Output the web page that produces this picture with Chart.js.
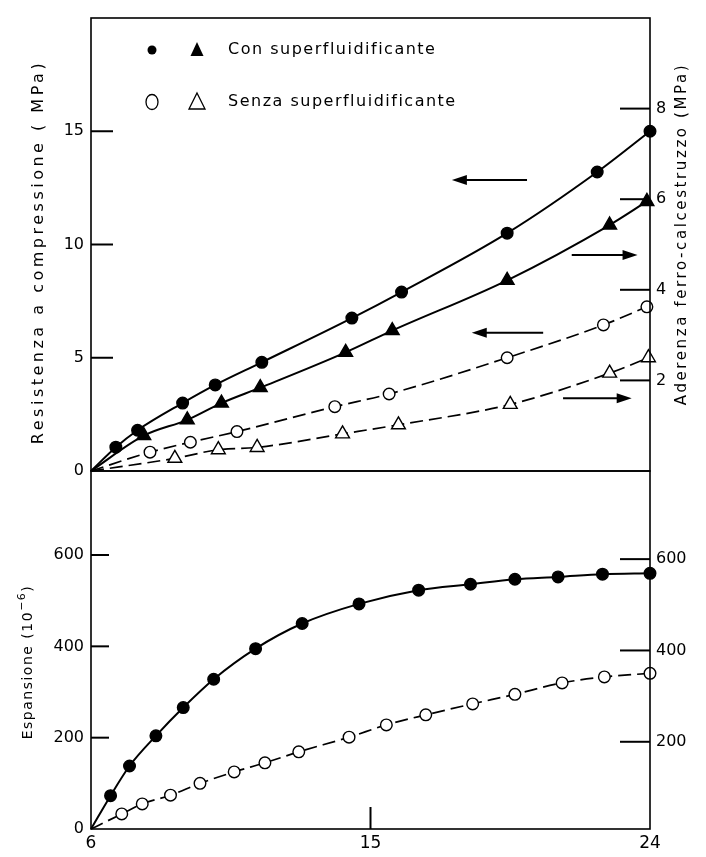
<!DOCTYPE html>
<html>
<head>
<meta charset="utf-8">
<script src="https://cdn.jsdelivr.net/npm/chart.js@4"></script>
<style>
  body { margin: 0; background: #fff; }
  #wrap { position: relative; width: 706px; height: 857px; }
  canvas { position: absolute; left: 0; }
  #alto { top: 0; }
  #basso { top: 451px; }
</style>
</head>
<body>
<div id="wrap">
  <canvas id="alto" width="706" height="490"></canvas>
  <canvas id="basso" width="706" height="406"></canvas>
</div>
<script>
// valori (ore sull'asse x)
var xTicks = [6, 15, 24];

// resistenza a compressione (MPa), asse sinistro alto
var oreResCon = [6, 6.8, 7.5, 8.95, 10, 11.5, 14.4, 16, 19.4, 22.3, 24];
var resCon = [0, 1.05, 1.8, 3.0, 3.8, 4.8, 6.75, 7.9, 10.5, 13.2, 15.0];
var oreResSenza = [6, 7.9, 9.2, 10.7, 13.85, 15.6, 19.4, 22.5, 23.9];
var resSenza = [0, 0.83, 1.27, 1.74, 2.84, 3.4, 5.0, 6.45, 7.25];

// aderenza ferro-calcestruzzo (MPa), asse destro alto
var oreAderCon = [6, 7.7, 9.1, 10.2, 11.45, 14.2, 15.7, 19.4, 22.7, 23.9];
var aderCon = [0, 0.78, 1.13, 1.5, 1.84, 2.62, 3.1, 4.21, 5.43, 5.95];
var oreAderSenza = [6, 8.7, 10.1, 11.35, 14.1, 15.9, 19.5, 22.7, 23.95];
var aderSenza = [0, 0.28, 0.47, 0.52, 0.82, 1.02, 1.47, 2.16, 2.5];

// espansione (10^-6), pannello basso
var oreEspCon = [6, 6.63, 7.24, 8.09, 8.97, 9.95, 11.3, 12.8, 14.63, 16.55, 18.22, 19.65, 21.04, 22.47, 24];
var espCon = [0, 73, 138, 204, 266, 328, 395, 450, 493, 523, 536, 547, 552, 558, 560];
var oreEspSenza = [6, 6.99, 7.65, 8.56, 9.51, 10.61, 11.6, 12.69, 14.31, 15.51, 16.78, 18.29, 19.65, 21.17, 22.53, 24];
var espSenza = [0, 33, 55, 74, 100, 125, 145, 169, 201, 228, 250, 274, 295, 320, 333, 341];

var resTicks = [0, 5, 10, 15];
var aderTicks = [2, 4, 6, 8];
var espTicks = [0, 200, 400, 600];
var espTicksDx = [200, 400, 600];

var legendaCon = 'Con superfluidificante';
var legendaSenza = 'Senza superfluidificante';

Chart.defaults.font.family = 'DejaVu Sans';
Chart.defaults.color = '#000';

function punti(xs, ys) {
  return xs.map(function (x, i) { return { x: x, y: ys[i] }; });
}

function serie(label, xs, ys, asse, stile, pieno, tratteggio) {
  return {
    label: label,
    data: punti(xs, ys),
    yAxisID: asse,
    borderColor: '#000',
    borderWidth: tratteggio ? 1.7 : 2,
    borderDash: tratteggio ? [13, 6] : [],
    pointStyle: stile,
    pointRadius: function (c) { return c.dataIndex === 0 ? 0 : (stile === 'triangle' ? 8 : 5.8); },
    pointBackgroundColor: pieno ? '#000' : '#fff',
    pointBorderColor: '#000',
    pointBorderWidth: 1.4,
    cubicInterpolationMode: 'monotone',
    clip: false,
    fill: false
  };
}

function soloTicks(vals) {
  return function (scale) { scale.ticks = vals.map(function (v) { return { value: v }; }); };
}

function larghezza(w) {
  return function (scale) { scale.width = w; };
}

// testo ruotato, letto dal basso verso l'alto; sup = esponente opzionale
function titoloVerticale(ctx, testo, x, y, size, spazio, sup, coda) {
  ctx.save();
  ctx.translate(x, y);
  ctx.rotate(-Math.PI / 2);
  ctx.letterSpacing = spazio + 'px';
  ctx.textBaseline = 'middle';
  ctx.fillStyle = '#000';
  var font = size + 'px "DejaVu Sans"', fontSup = Math.round(size * 0.75) + 'px "DejaVu Sans"';
  ctx.font = font;
  var w1 = ctx.measureText(testo).width, w2 = 0, w3 = 0;
  if (sup) {
    ctx.font = fontSup; w2 = ctx.measureText(sup).width;
    ctx.font = font; w3 = ctx.measureText(coda).width;
  }
  var x0 = -(w1 + w2 + w3) / 2;
  ctx.textAlign = 'left';
  ctx.fillText(testo, x0, 0);
  if (sup) {
    ctx.font = fontSup;
    ctx.fillText(sup, x0 + w1, -size * 0.4);
    ctx.font = font;
    ctx.fillText(coda, x0 + w1 + w2, 0);
  }
  ctx.restore();
}

function freccia(ctx, xs, ys, da, a, y) {
  var x1 = xs.getPixelForValue(da), x2 = xs.getPixelForValue(a), py = ys.getPixelForValue(y);
  var dir = x2 > x1 ? 1 : -1;
  ctx.beginPath();
  ctx.moveTo(x1, py);
  ctx.lineTo(x2 - dir * 10, py);
  ctx.stroke();
  ctx.beginPath();
  ctx.moveTo(x2, py);
  ctx.lineTo(x2 - dir * 15, py - 5);
  ctx.lineTo(x2 - dir * 15, py + 5);
  ctx.closePath();
  ctx.fill();
}

function tacche(ctx, scale, vals, xBase, len) {
  vals.forEach(function (v) {
    var py = scale.getPixelForValue(v);
    ctx.beginPath();
    ctx.moveTo(xBase, py);
    ctx.lineTo(xBase + len, py);
    ctx.stroke();
  });
}

// cornice, tacche interne, titoli, legenda e frecce del pannello alto
var decoriAlto = {
  id: 'decoriAlto',
  afterDraw: function (chart) {
    var ctx = chart.ctx, a = chart.chartArea, s = chart.scales;
    ctx.save();
    ctx.strokeStyle = '#000';
    ctx.fillStyle = '#000';
    ctx.lineWidth = 1.6;
    ctx.strokeRect(a.left, a.top, a.right - a.left, a.bottom - a.top);
    ctx.lineWidth = 2;
    tacche(ctx, s.yL, resTicks.slice(1), a.left, 22);
    tacche(ctx, s.yR, aderTicks, a.right, -30);

    freccia(ctx, s.x, s.yL, 20.04, 17.62, 12.85);
    freccia(ctx, s.x, s.yL, 21.48, 23.6, 9.54);
    freccia(ctx, s.x, s.yL, 20.56, 18.26, 6.1);
    freccia(ctx, s.x, s.yL, 21.2, 23.41, 3.21);

    // legenda
    ctx.lineWidth = 1.3;
    ctx.beginPath(); ctx.arc(152, 50, 4.5, 0, Math.PI * 2); ctx.fill();
    ctx.beginPath(); ctx.moveTo(197, 42); ctx.lineTo(203.5, 56); ctx.lineTo(190.5, 56); ctx.closePath(); ctx.fill();
    ctx.beginPath(); ctx.ellipse(152, 102, 6, 7.5, 0, 0, Math.PI * 2); ctx.stroke();
    ctx.beginPath(); ctx.moveTo(197, 93); ctx.lineTo(205, 109); ctx.lineTo(189, 109); ctx.closePath(); ctx.stroke();
    ctx.font = '16px "DejaVu Sans"';
    ctx.letterSpacing = '1.5px';
    ctx.textAlign = 'left';
    ctx.textBaseline = 'middle';
    ctx.fillText(legendaCon, 228, 50);
    ctx.fillText(legendaSenza, 228, 102);
    ctx.restore();

    titoloVerticale(ctx, 'Resistenza a compressione ( MPa)', 39, 252, 16, 3.5);
    titoloVerticale(ctx, 'Aderenza ferro-calcestruzzo (MPa)', 682, 234, 15, 2.6);
  }
};

var decoriBasso = {
  id: 'decoriBasso',
  afterDraw: function (chart) {
    var ctx = chart.ctx, a = chart.chartArea, s = chart.scales;
    ctx.save();
    ctx.strokeStyle = '#000';
    ctx.lineWidth = 1.6;
    ctx.strokeRect(a.left, a.top, a.right - a.left, a.bottom - a.top);
    ctx.lineWidth = 2;
    tacche(ctx, s.yL, espTicks.slice(1), a.left, 18);
    tacche(ctx, s.yR, espTicksDx, a.right, -30);
    var px = s.x.getPixelForValue(15);
    ctx.beginPath();
    ctx.moveTo(px, a.bottom);
    ctx.lineTo(px, a.bottom - 22);
    ctx.stroke();
    ctx.restore();
    titoloVerticale(ctx, 'Espansione (10', 28, 211, 14, 1.5, '\u22126', ')');
  }
};

var asseX = {
  type: 'linear', min: 6, max: 24,
  grid: { display: false, drawTicks: false },
  border: { display: false },
  afterBuildTicks: soloTicks(xTicks)
};

new Chart(document.getElementById('alto'), {
  type: 'line',
  data: {
    datasets: [
      serie('Con superfluidificante - resistenza', oreResCon, resCon, 'yL', 'circle', true, false),
      serie('Con superfluidificante - aderenza', oreAderCon, aderCon, 'yR', 'triangle', true, false),
      serie('Senza superfluidificante - resistenza', oreResSenza, resSenza, 'yL', 'circle', false, true),
      serie('Senza superfluidificante - aderenza', oreAderSenza, aderSenza, 'yR', 'triangle', false, true)
    ]
  },
  options: {
    responsive: false,
    animation: false,
    events: [],
    layout: { padding: { top: 18, bottom: 19, left: 0, right: 0 } },
    plugins: { legend: { display: false }, tooltip: { enabled: false } },
    scales: {
      x: Object.assign({}, asseX, { display: false }),
      yL: {
        position: 'left', min: 0, max: 20,
        grid: { display: false, drawTicks: false },
        border: { display: false },
        ticks: { font: { size: 16 }, padding: 7 },
        afterBuildTicks: soloTicks(resTicks),
        afterFit: larghezza(91)
      },
      yR: {
        position: 'right', min: 0, max: 10,
        grid: { display: false, drawTicks: false },
        border: { display: false },
        ticks: { font: { size: 16 }, padding: 6 },
        afterBuildTicks: soloTicks(aderTicks),
        afterFit: larghezza(56)
      }
    }
  },
  plugins: [decoriAlto]
});

new Chart(document.getElementById('basso'), {
  type: 'line',
  data: {
    datasets: [
      serie('Con superfluidificante', oreEspCon, espCon, 'yL', 'circle', true, false),
      serie('Senza superfluidificante', oreEspSenza, espSenza, 'yL', 'circle', false, true)
    ]
  },
  options: {
    responsive: false,
    animation: false,
    events: [],
    layout: { padding: { top: 20, bottom: 0, left: 0, right: 0 } },
    plugins: { legend: { display: false }, tooltip: { enabled: false } },
    scales: {
      x: Object.assign({}, asseX, {
        ticks: { font: { size: 17 }, padding: 4, maxRotation: 0 },
        afterFit: function (scale) { scale.height = 28; }
      }),
      yL: {
        position: 'left', min: 0, max: 784,
        grid: { display: false, drawTicks: false },
        border: { display: false },
        ticks: { font: { size: 16 }, padding: 7 },
        afterBuildTicks: soloTicks(espTicks),
        afterFit: larghezza(91)
      },
      yR: {
        position: 'right', min: 9, max: 793,
        grid: { display: false, drawTicks: false },
        border: { display: false },
        ticks: { font: { size: 16 }, padding: 6 },
        afterBuildTicks: soloTicks(espTicksDx),
        afterFit: larghezza(56)
      }
    }
  },
  plugins: [decoriBasso]
});
</script>
</body>
</html>
